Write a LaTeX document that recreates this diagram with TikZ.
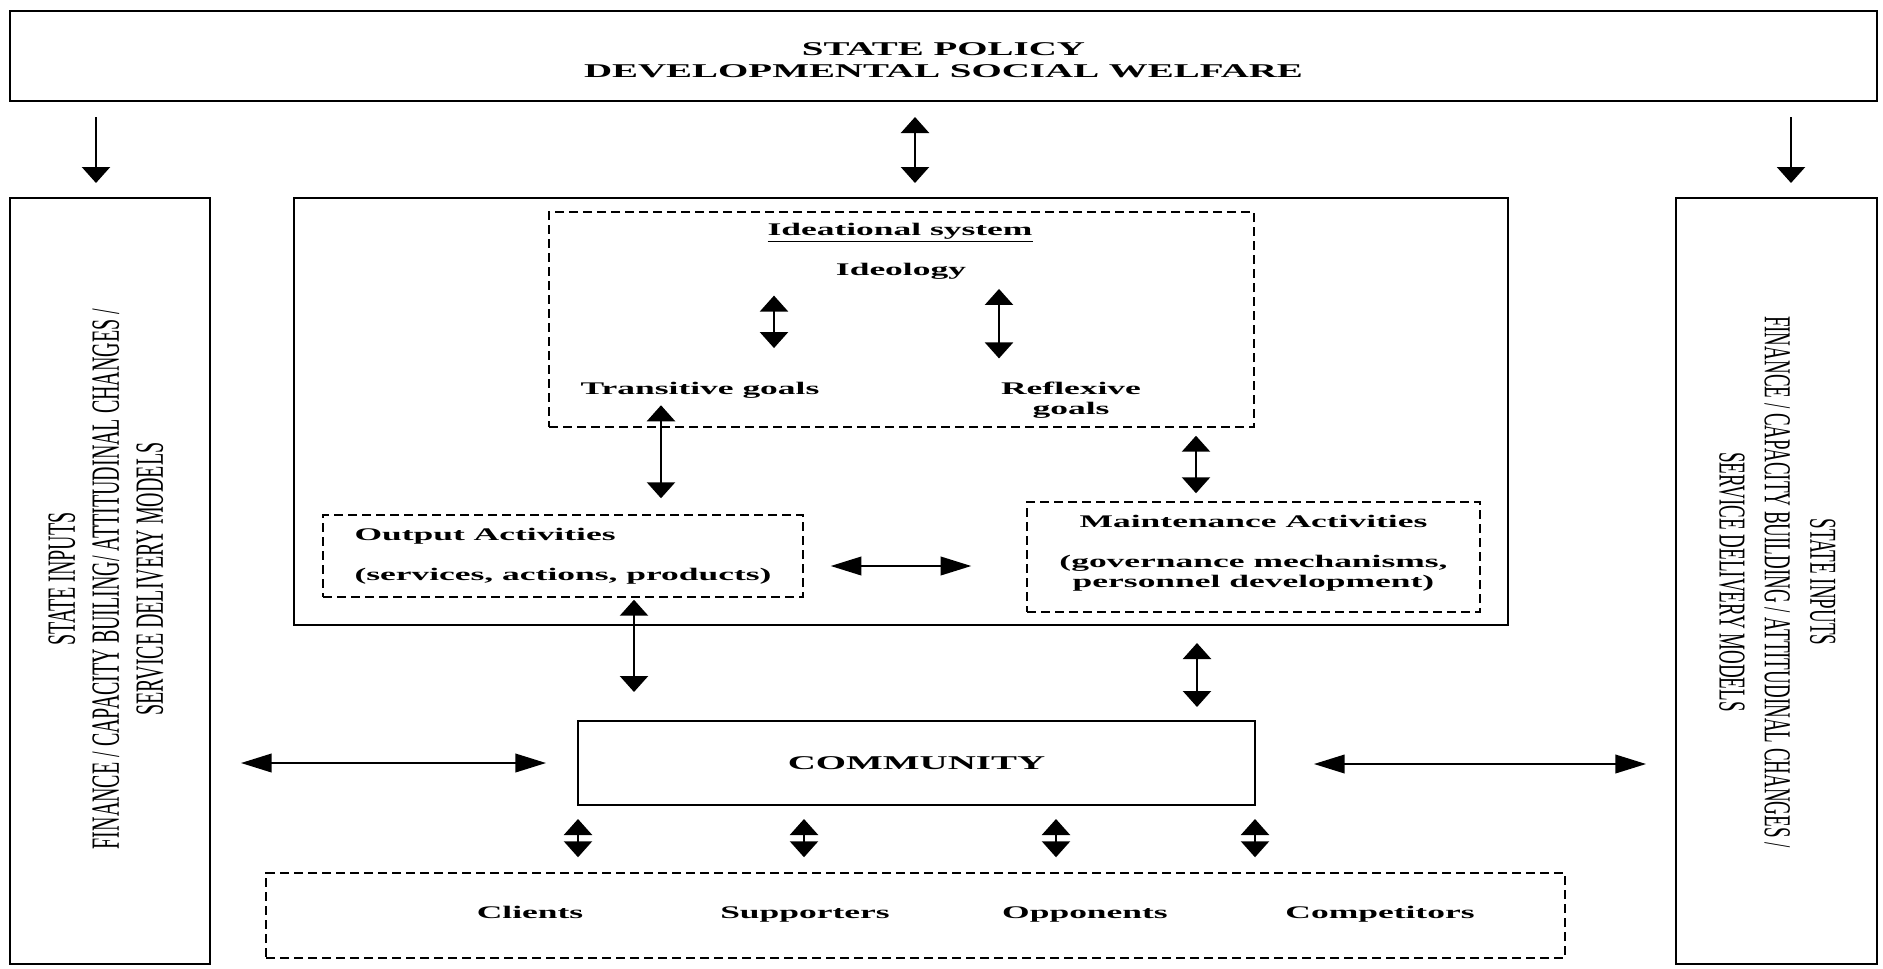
\documentclass[tikz,border=0pt]{standalone}
\usepackage{fontspec}
\usepackage{graphicx}
\setmainfont{Liberation Serif}
\usetikzlibrary{arrows.meta}
\newcommand\hs[1]{\scalebox{2}[1]{#1}}
\newcommand\vsx[1]{\scalebox{1}[2]{#1}}
\newcommand\shiftby[2]{\raisebox{#1}[\height][\depth]{#2}}
\newcommand\fIn{\fontsize{13.3}{15}\selectfont\bfseries}
\newcommand\fBig{\fontsize{14.6}{16.5}\selectfont\bfseries}
\newcommand\fRotL{\fontsize{15}{16.5}\selectfont}
\newcommand\fRotR{\fontsize{14.25}{17}\selectfont}
\begin{document}
\begin{tikzpicture}[x=0.75pt,y=-0.75pt,
  box/.style={draw, line width=1.5pt, inner sep=0pt},
  dbox/.style={draw, line width=1.1pt, dash pattern=on 7pt off 3.5pt, inner sep=0pt},
  txt/.style={inner sep=0pt, text height=9.5pt, text depth=3pt},
  vv/.style={line width=1.8pt, {Triangle[length=12pt,width=21pt]}-{Triangle[length=12pt,width=21pt]}},
  v1/.style={line width=1.8pt, -{Triangle[length=12pt,width=21pt]}},
  hh/.style={line width=1.3pt, {Triangle[length=23pt,width=14pt]}-{Triangle[length=23pt,width=14pt]}}]
\path[fill=white, use as bounding box] (0,0) rectangle (1883,968);

% boxes
\node[box, minimum width=1400.25pt, minimum height=67.5pt] (top) at (943.5,56)
  {\fBig\shiftby{-4.5pt}{\hs{\begin{tabular}{@{}c@{}}STATE POLICY\\DEVELOPMENTAL SOCIAL WELFARE\end{tabular}}}};
\node[box, minimum width=150pt, minimum height=574.5pt] (lin) at (110,581) {};
\node[inner sep=0pt, rotate=90] (ltxt) at (110,579)
  {\fRotL\vsx{\begin{tabular}{@{}c@{}}STATE INPUTS\\FINANCE / CAPACITY BUILING/ ATTITUDINAL CHANGES /\\SERVICE DELIVERY MODELS\end{tabular}}};
\node[box, minimum width=150.75pt, minimum height=574.5pt] (rin) at (1776.5,581) {};
\node[inner sep=0pt, rotate=-90] (rtxt) at (1774,582)
  {\fRotR\vsx{\begin{tabular}{@{}c@{}}STATE INPUTS\\FINANCE / CAPACITY BUILDING / ATTITUDINAL CHANGES /\\SERVICE DELIVERY MODELS\end{tabular}}};
\node[box, minimum width=910.5pt, minimum height=320.25pt] (mid) at (901,411.5) {};
\node[dbox, minimum width=528.75pt, minimum height=161.25pt] (ideal) at (901.5,319.5) {};
\node[txt] (title) at (900,231) {\fIn\hs{\underline{Ideational system}}};
\node[txt] (ideo) at (901,271) {\fIn\hs{Ideology}};
\node[txt] (trans) at (700,390) {\fIn\hs{Transitive goals}};
\node[inner sep=0pt] (refl) at (1071,400) {\fIn\hs{\begin{tabular}{@{}c@{}}Reflexive\\goals\end{tabular}}};
\node[dbox, minimum width=360pt, minimum height=61.5pt] (outp) at (563,556)
  {\fIn\hs{\begin{tabular}{@{}l@{}}Output Activities\\[15pt](services, actions, products)\end{tabular}}};
\node[dbox, minimum width=339.75pt, minimum height=82.5pt] (maint) at (1253.5,557)
  {\fIn\shiftby{3pt}{\hs{\begin{tabular}{@{}c@{}}Maintenance Activities\\[15pt](governance mechanisms,\\personnel development)\end{tabular}}}};
\node[box, minimum width=507.75pt, minimum height=63pt] (comm) at (916.5,763) {\fBig\hs{COMMUNITY}};
\node[dbox, minimum width=974.25pt, minimum height=63.75pt] (bot) at (915.5,915.5) {};
\node[txt] (cl) at (530,914) {\fIn\hs{Clients}};
\node[txt] (sup) at (805,914) {\fIn\hs{Supporters}};
\node[txt] (opp) at (1085,914) {\fIn\hs{Opponents}};
\node[txt] (cmp) at (1380,914) {\fIn\hs{Competitors}};

% reference coordinates for connector positions
\coordinate (xa) at (96,0);
\coordinate (xb) at (915,0);
\coordinate (xc) at (1791,0);
\coordinate (xd) at (774,0);
\coordinate (xe) at (999,0);
\coordinate (xf) at (661,0);
\coordinate (xg) at (1196,0);
\coordinate (yh) at (0,566);
\coordinate (xi) at (634,0);
\coordinate (xj) at (1197,0);
\coordinate (yk) at (0,763);
\coordinate (yl) at (0,764);
\coordinate (s1) at (578,0);
\coordinate (s2) at (804,0);
\coordinate (s3) at (1056,0);
\coordinate (s4) at (1255,0);

% connectors
\draw[v1, shorten <=11.25pt, shorten >=10.5pt] (top.south -| xa) -- (lin.north -| xa);
\draw[vv, shorten <=11.25pt, shorten >=10.5pt] (top.south -| xb) -- (mid.north -| xb);
\draw[v1, shorten <=11.25pt, shorten >=10.5pt] (top.south -| xc) -- (rin.north -| xc);
\draw[vv, shorten <=12pt, shorten >=25pt] (ideo.south -| xd) -- (trans.north -| xd);
\draw[vv, shorten <=7pt, shorten >=16pt] (ideo.south -| xe) -- (refl.north -| xe);
\draw[vv, shorten <=5pt, shorten >=12pt] (trans.south -| xf) -- (outp.north -| xf);
\draw[vv, shorten <=6pt, shorten >=6pt] (ideal.south -| xg) -- (maint.north -| xg);
\draw[hh, shorten <=20.25pt, shorten >=41.25pt] (outp.east |- yh) -- (maint.west |- yh);
\draw[vv, shorten <=1.5pt, shorten >=21pt] (outp.south -| xi) -- (comm.north -| xi);
\draw[vv, shorten <=12.75pt, shorten >=9.75pt] (mid.south -| xj) -- (comm.north -| xj);
\draw[hh, shorten <=22.5pt, shorten >=23.25pt] (lin.east |- yk) -- (comm.west |- yk);
\draw[hh, shorten <=43.5pt, shorten >=21.75pt] (comm.east |- yl) -- (rin.west |- yl);
\foreach \s in {s1,s2,s3,s4}
  \draw[vv, shorten <=9.75pt, shorten >=11.25pt] (comm.south -| \s) -- (bot.north -| \s);
\end{tikzpicture}
\end{document}
